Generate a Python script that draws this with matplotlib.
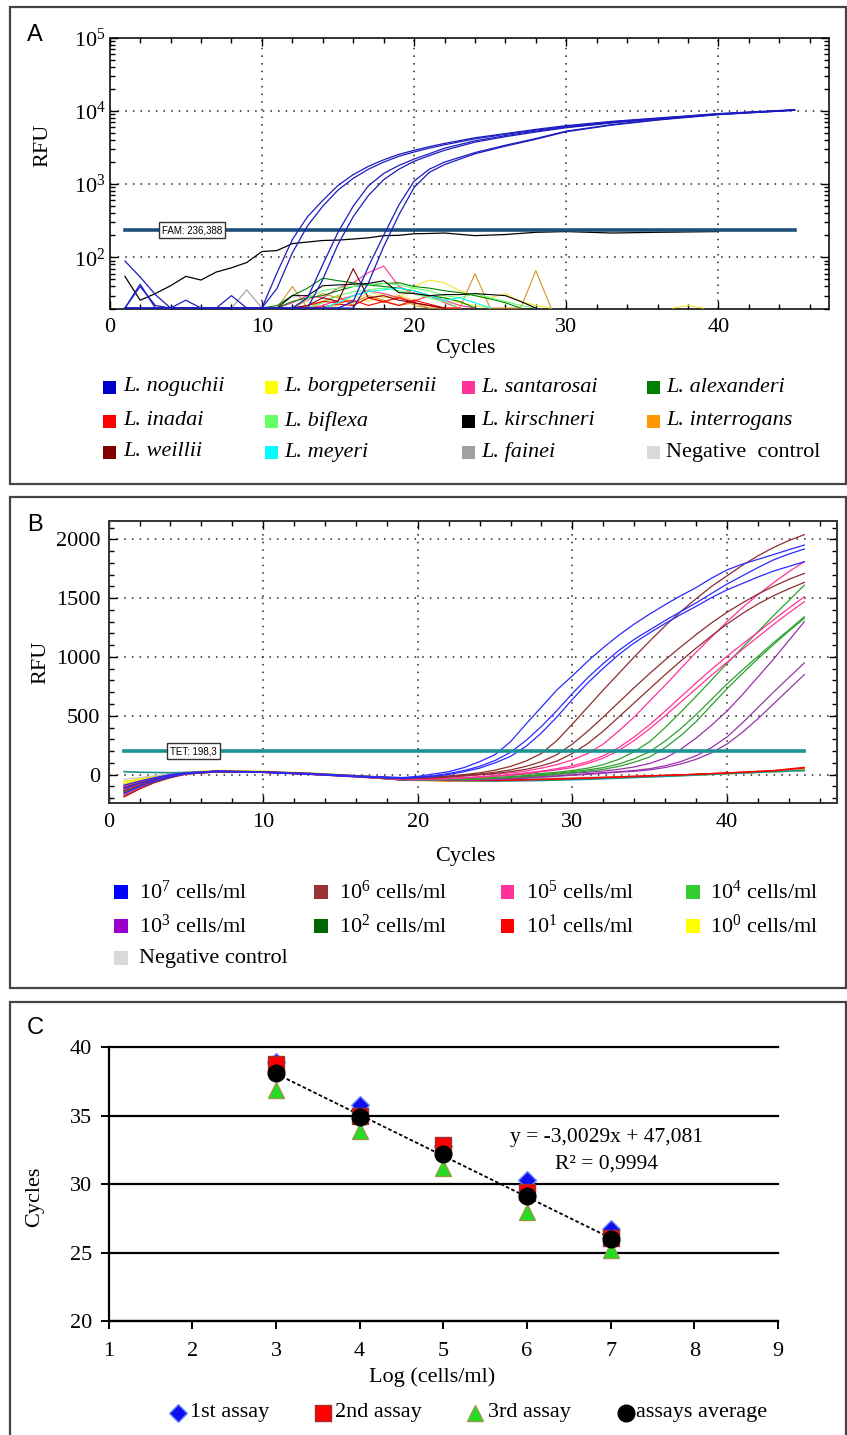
import numpy as np
import matplotlib
matplotlib.use("Agg")
import matplotlib.pyplot as plt
from matplotlib.patches import Rectangle
from matplotlib.lines import Line2D
from matplotlib.ticker import MultipleLocator, LogLocator, NullFormatter

W, H = 847, 1435

# ---------------- panel A: specificity run (RFU, log scale) ----------------
cyc_a = list(range(1, 23)) + [24, 26, 28, 30, 33, 36, 40, 45]

noguchii_runs = [
    [89, 54, 31, 0, 0, 0, 0, 0, 0, 20, 62, 175, 360, 600, 960, 1350, 1750, 2150, 2550, 2900, 3250, 3600,
     4300, 4900, 5600, 6300, 7200, 8000, 9200, 10400],
    [0, 43, 0, 0, 26, 0, 0, 0, 0, 0, 38, 115, 270, 500, 830, 1200, 1600, 2000, 2400, 2750, 3100, 3450,
     4150, 4800, 5450, 6150, 7100, 7900, 9100, 10300],
    [0, 40, 22, 0, 0, 0, 0, 30, 0, 0, 0, 0, 28, 80, 220, 500, 950, 1400, 1800, 2200, 2600, 3100,
     3900, 4600, 5300, 6000, 6950, 7850, 9050, 10300],
    [0, 0, 0, 0, 0, 0, 0, 0, 0, 0, 0, 0, 0, 50, 150, 360, 700, 1150, 1600, 2050, 2450, 2900,
     3750, 4450, 5150, 5900, 6850, 7750, 8950, 10200],
    [0, 0, 0, 0, 0, 0, 0, 0, 0, 0, 0, 0, 0, 0, 0, 25, 75, 200, 520, 1100, 1600, 2000,
     2700, 3400, 4200, 5300, 6500, 7600, 9000, 10300],
    [0, 0, 0, 0, 0, 0, 0, 0, 0, 0, 0, 0, 0, 0, 0, 0, 45, 140, 380, 900, 1450, 1850,
     2600, 3300, 4100, 5200, 6400, 7500, 8900, 10200],
]
kirschneri_main = [55, 26, 32, 41, 55, 49, 63, 72, 85, 120, 124, 154, 162, 170, 172, 178, 185, 198, 200, 210, 212, 215,
                   198, 205, 220, 225, 215, 220, 225, np.nan]

# background traces: (species, first cycle, RFU per cycle)
noise_a = [
    ("borgpetersenii", 14, [0, 22, 30, 25, 32, 28, 40, 49, 45, 35, 30, 28, 32, 25, 22, 0]),
    ("borgpetersenii", 13, [0, 25, 30, 22, 35, 28, 30, 26, 30, 28, 24, 22, 0]),
    ("borgpetersenii", 37, [0, 22, 0]),
    ("interrogans", 11, [0, 40, 0, 25, 30, 22, 28, 24, 30, 22, 0, 0, 0, 60, 0, 0, 0, 66, 0]),
    ("interrogans", 12, [0, 26, 32, 28, 24, 30, 26, 22, 24, 0]),
    ("santarosai", 11, [0, 24, 30, 28, 38, 45, 62, 76, 40, 32, 30, 24, 0]),
    ("santarosai", 13, [0, 22, 26, 30, 35, 32, 28, 25, 30, 26, 22, 0]),
    ("alexanderi", 10, [0, 22, 30, 38, 52, 48, 45, 42, 44, 45, 40, 38, 35, 33, 30, 27, 24, 0]),
    ("alexanderi", 11, [0, 25, 28, 30, 35, 40, 42, 40, 38, 35, 30, 28, 25, 0]),
    ("biflexa", 12, [0, 28, 35, 38, 40, 42, 44, 42, 38, 35, 30, 28, 32, 28, 25, 22, 0]),
    ("biflexa", 13, [0, 24, 30, 34, 36, 38, 35, 32, 28, 25, 0]),
    ("inadai", 12, [0, 22, 25, 24, 26, 22, 25, 28, 24, 22, 0]),
    ("inadai", 13, [0, 21, 23, 22, 28, 25, 22, 26, 23, 20, 0]),
    ("weillii", 12, [0, 22, 28, 25, 70, 28, 30, 26, 24, 22, 0]),
    ("meyeri", 14, [0, 24, 30, 34, 36, 38, 35, 30, 26, 28, 24, 0]),
    ("fainei", 8, [0, 36, 0]),
    ("kirschneri", 11, [0, 30, 30, 41, 42, 43, 44, 48, 33, 32, 30, 31, 31, 32, 31, 30, 25, 0]),
]
fam_threshold = 236.388

species = ["noguchii", "borgpetersenii", "santarosai", "alexanderi",
           "inadai", "biflexa", "kirschneri", "interrogans",
           "weillii", "meyeri", "fainei", "negative"]
species_labels = ["L. noguchii", "L. borgpetersenii", "L. santarosai", "L. alexanderi",
                  "L. inadai", "L. biflexa", "L. kirschneri", "L. interrogans",
                  "L. weillii", "L. meyeri", "L. fainei", "Negative  control"]
species_colors = ["#0000cc", "#ffff00", "#ff3399", "#008000",
                  "#ff0000", "#66ff66", "#000000", "#ff9900",
                  "#800000", "#00ffff", "#a0a0a0", "#d9d9d9"]

# ---------------- panel B: dilution series (RFU, linear) ----------------
cyc_b = [1, 2, 3, 4, 5, 7, 10, 13, 16] + list(range(19, 46))
cyc_b0 = [1, 2, 3, 4, 5, 7, 10, 13, 16, 19, 22, 25, 28, 31, 34, 37, 40, 43, 45]

rfu_1e7 = [
    [-160, -100, -55, -20, 8, 25, 22, 8, -12, -25, -15, 5, 25, 60, 110, 170, 280, 430, 575, 720, 840, 965, 1080,
     1185, 1280, 1365, 1445, 1520, 1590, 1670, 1740, 1790, 1830, 1870, 1912, 1952],
    [-120, -75, -40, -10, 12, 28, 20, 5, -15, -30, -20, -10, 10, 35, 70, 120, 190, 290, 410, 545, 690, 825, 945,
     1055, 1150, 1230, 1310, 1385, 1460, 1540, 1620, 1690, 1760, 1825, 1875, 1918],
    [-90, -55, -25, 0, 15, 30, 18, 2, -18, -32, -25, -15, 0, 25, 55, 100, 155, 240, 355, 490, 640, 780, 905,
     1020, 1120, 1205, 1285, 1360, 1430, 1505, 1570, 1625, 1680, 1730, 1770, 1810],
]
rfu_1e6 = [
    [-185, -120, -65, -25, 5, 22, 20, 5, -15, -35, -30, -22, -12, 0, 15, 38, 70, 115, 180, 290, 430, 575, 720,
     860, 1000, 1135, 1265, 1385, 1495, 1600, 1690, 1780, 1860, 1930, 1990, 2040],
    [-140, -90, -45, -12, 10, 30, 24, 10, -10, -28, -25, -20, -15, -5, 5, 20, 40, 70, 110, 170, 260, 370, 490,
     615, 740, 860, 975, 1085, 1190, 1290, 1380, 1460, 1535, 1600, 1660, 1710],
    [-110, -70, -35, -5, 14, 26, 22, 6, -14, -35, -32, -28, -20, -10, 0, 10, 25, 45, 75, 115, 180, 265, 370,
     490, 610, 730, 850, 965, 1075, 1180, 1280, 1370, 1450, 1520, 1580, 1634],
]
rfu_1e5 = [
    [-175, -110, -60, -22, 6, 24, 20, 4, -18, -40, -35, -30, -22, -12, -2, 5, 15, 30, 55, 85, 125, 180, 260,
     370, 490, 625, 760, 900, 1040, 1170, 1300, 1420, 1530, 1630, 1725, 1810],
    [-130, -80, -42, -14, 10, 28, 22, 8, -12, -38, -38, -35, -30, -25, -18, -10, 0, 15, 30, 50, 75, 110, 160,
     230, 320, 425, 540, 660, 780, 895, 1005, 1110, 1210, 1315, 1415, 1512],
    [-100, -62, -30, -4, 14, 30, 24, 10, -10, -42, -42, -40, -36, -30, -22, -14, -5, 8, 25, 40, 60, 95, 140,
     205, 290, 390, 500, 615, 730, 845, 955, 1065, 1170, 1275, 1375, 1470],
]
rfu_1e4 = [
    [-150, -95, -50, -18, 8, 26, 20, 4, -16, -40, -40, -38, -34, -28, -20, -12, -4, 4, 10, 20, 35, 55, 85,
     130, 195, 280, 400, 530, 665, 805, 945, 1080, 1215, 1350, 1480, 1611],
    [-125, -78, -40, -10, 12, 28, 22, 6, -14, -42, -42, -42, -40, -36, -30, -24, -16, -8, 0, 12, 25, 40, 60,
     90, 135, 195, 285, 390, 510, 640, 770, 890, 1005, 1120, 1230, 1342],
    [-95, -60, -28, -2, 15, 30, 24, 8, -12, -44, -45, -45, -44, -42, -38, -32, -25, -16, -8, 2, 15, 30, 45,
     70, 105, 150, 230, 330, 450, 590, 730, 860, 985, 1105, 1220, 1328],
]
rfu_1e3 = [
    [-165, -105, -56, -20, 6, 24, 20, 6, -16, -45, -46, -46, -45, -42, -38, -32, -25, -16, -8, 2, 12, 20, 30,
     45, 65, 95, 140, 215, 310, 420, 540, 680, 830, 980, 1140, 1300],
    [-135, -85, -45, -15, 10, 27, 21, 5, -15, -46, -48, -48, -48, -46, -42, -38, -32, -25, -18, -10, -2, 8, 16,
     25, 35, 50, 75, 110, 160, 230, 320, 440, 570, 700, 825, 950],
    [-105, -66, -32, -6, 13, 29, 23, 7, -13, -48, -50, -50, -50, -48, -45, -42, -36, -30, -22, -14, -6, 2, 12,
     20, 28, 40, 60, 90, 130, 185, 260, 360, 475, 600, 725, 850],
]
# non-amplifying wells on the sparse cycle grid
rfu_1e2 = [
    [-145, -92, -48, -15, 10, 27, 20, 4, -18, -42, -50, -48, -40, -30, -18, -5, 12, 28, 40],
    [-115, -72, -36, -8, 13, 29, 23, 7, -14, -38, -46, -44, -38, -28, -16, -4, 10, 26, 36],
]
rfu_1e1 = [
    [-190, -122, -66, -26, 4, 22, 18, 2, -20, -45, -52, -50, -42, -30, -16, -2, 15, 35, 62],
    [-155, -100, -52, -18, 8, 25, 20, 5, -16, -40, -48, -46, -40, -28, -14, -2, 14, 32, 55],
]
rfu_1e0 = [
    [-80, -50, -22, 0, 16, 32, 26, 10, -12, -44, -55, -52, -45, -35, -20, -6, 10, 25, 38],
    [-60, -38, -15, 4, 18, 34, 28, 12, -10, -40, -52, -50, -44, -34, -20, -6, 8, 24, 35],
]
rfu_neg = [-40, -25, -8, 6, 18, 30, 26, 12, -8, -30, -38, -36, -30, -22, -12, -2, 10, 22, 32]
rfu_extra = [25, 20, 18, 16, 18, 22, 22, 10, -10, -35, -50, -55, -50, -40, -25, -10, 8, 25, 35]
tet_threshold = 198.3

dil_labels = [r"10$^{7}$ cells/ml", r"10$^{6}$ cells/ml", r"10$^{5}$ cells/ml", r"10$^{4}$ cells/ml",
              r"10$^{3}$ cells/ml", r"10$^{2}$ cells/ml", r"10$^{1}$ cells/ml", r"10$^{0}$ cells/ml",
              "Negative control"]
dil_colors = ["#0000ff", "#993333", "#ff3399", "#33cc33", "#9900cc", "#006600", "#ff0000", "#ffff00", "#d9d9d9"]

# ---------------- panel C: standard curve ----------------
log_conc = [3, 4, 5, 6, 7]
assay1 = [38.95, 35.8, 32.8, 30.3, 26.7]
assay2 = [38.8, 35.0, 32.85, 29.45, 26.05]
assay3 = [36.9, 33.9, 31.15, 28.0, 25.2]
assay_avg = [38.15, 34.9, 32.2, 29.15, 25.97]
fit_slope, fit_intercept = -3.0029, 47.081

# ---------------- figure ----------------
plt.rcParams['font.family'] = ['Liberation Serif', 'DejaVu Serif']
plt.rcParams['font.size'] = 16
plt.rcParams['mathtext.fontset'] = 'custom'
plt.rcParams['mathtext.rm'] = 'Liberation Serif'
plt.rcParams['mathtext.it'] = 'Liberation Serif:italic'
plt.rcParams['mathtext.bf'] = 'Liberation Serif:bold'

fig = plt.figure(figsize=(W / 100, H / 100), dpi=100)


def fx(px):
    return px / W


def fy(py):
    return 1 - py / H


def px_rect(l, t, r, b):
    return [l / W, 1 - b / H, (r - l) / W, (b - t) / H]


def square(cx, cy, color, s=13):
    fig.add_artist(Rectangle((fx(cx - s / 2), fy(cy + s / 2)), s / W, s / H,
                             transform=fig.transFigure, fc=color, ec='none'))


# panel frames and letters
for top, bottom in [(7.3, 484), (497.3, 987.7), (1001.7, 1440)]:
    fig.add_artist(Rectangle((fx(9.7), fy(bottom)), (846 - 9.7) / W, (bottom - top) / H,
                             transform=fig.transFigure, fill=False, ec='#444444', lw=1.6))
for letter, y in [("A", 35), ("B", 525), ("C", 1028)]:
    fig.text(fx(35), fy(y), letter, family='Liberation Sans', fontsize=17, ha='center', va='center')

grid_style = dict(color='#222222', ls=(0, (1, 4)), lw=1.1)

# ---- A ----
ax_a = fig.add_axes(px_rect(109.7, 37.7, 829.3, 308.7))
ax_a.set_yscale('log')
ax_a.set_xlim(0, 47.28)
ax_a.set_ylim(19.9, 1e5)
floor_a = 20.3
line_col = dict(zip(species, species_colors))
line_col["interrogans"] = "#d8922c"
line_col["borgpetersenii"] = "#f2e52a"
for sp, start, vals in noise_a:
    x = np.arange(start, start + len(vals))
    ax_a.plot(x, np.clip(np.array(vals, float), floor_a, None), color=line_col[sp], lw=0.8, zorder=3)
ax_a.plot(cyc_a, np.clip(np.array(kirschneri_main, float), floor_a, None), color='black', lw=0.9, zorder=3)
ax_a.plot([1, 45], [fam_threshold] * 2, color='#1f4e79', lw=2.6, zorder=3.5)
for run in noguchii_runs:
    ax_a.plot(cyc_a, np.clip(np.array(run, float), floor_a, None), color='#1c1cc0', lw=0.9, zorder=4)
ax_a.text(5.4, fam_threshold, "FAM: 236,388", family='Liberation Sans', fontsize=7, ha='center',
          va='center', zorder=6, bbox=dict(boxstyle='square,pad=0.3', fc='white', ec='#333333', lw=1))
ax_a.xaxis.set_major_locator(MultipleLocator(10))
ax_a.xaxis.set_minor_locator(MultipleLocator(2))
ax_a.yaxis.set_minor_locator(LogLocator(subs=np.arange(2, 10)))
ax_a.yaxis.set_minor_formatter(NullFormatter())
ax_a.grid(True, which='major', **grid_style)
ax_a.set_axisbelow(False)

# ---- B ----
ax_b = fig.add_axes(px_rect(108.6, 521, 837.4, 803.3))
ax_b.set_xlim(0, 47.14)
ax_b.set_ylim(-244, 2156)
for vals in rfu_1e2:
    ax_b.plot(cyc_b0, vals, color='#006600', lw=0.9)
for vals in rfu_1e0:
    ax_b.plot(cyc_b0, vals, color='#f5e800', lw=1.2)
ax_b.plot(cyc_b0, rfu_neg, color='#c8c8c8', lw=0.9)
ax_b.plot(cyc_b0, rfu_extra, color='#1a9393', lw=1.2)
for vals in rfu_1e1:
    ax_b.plot(cyc_b0, vals, color='#ff0000', lw=0.9)
for group, col in [(rfu_1e3, '#9933aa'), (rfu_1e4, '#2ea02e'), (rfu_1e5, '#ff3399'),
                   (rfu_1e6, '#8b2e2e'), (rfu_1e7, '#2a2aff')]:
    for vals in group:
        ax_b.plot(cyc_b, vals, color=col, lw=0.9)
ax_b.plot([1, 45], [tet_threshold] * 2, color='#1a9393', lw=2.6, zorder=3)
ax_b.text(5.5, tet_threshold, "TET: 198,3", family='Liberation Sans', fontsize=7, ha='center',
          va='center', zorder=6, bbox=dict(boxstyle='square,pad=0.3', fc='white', ec='#333333', lw=1))
ax_b.xaxis.set_major_locator(MultipleLocator(10))
ax_b.xaxis.set_minor_locator(MultipleLocator(2))
ax_b.yaxis.set_major_locator(MultipleLocator(500))
ax_b.yaxis.set_minor_locator(MultipleLocator(100))
ax_b.grid(True, which='major', **grid_style)

for ax in (ax_a, ax_b):
    for s in ax.spines.values():
        s.set_color('#333333')
        s.set_linewidth(1.4)
    ax.tick_params(which='both', direction='in', top=True, right=True, labelsize=16)
    ax.tick_params(which='major', length=6, width=1)
    ax.tick_params(which='minor', length=3.5, width=1)
    ax.tick_params(axis='x', pad=7)
ax_a.tick_params(axis='y', pad=3)
ax_b.tick_params(axis='y', pad=6)

fig.text(fx(43), fy(145), "RFU", rotation=90, ha='center', va='center', fontsize=16)
fig.text(fx(465), fy(348), "Cycles", ha='center', va='center', fontsize=16)
fig.text(fx(41), fy(662), "RFU", rotation=90, ha='center', va='center', fontsize=16)
fig.text(fx(465), fy(857), "Cycles", ha='center', va='center', fontsize=16)

# legend A
sq_x = [109.5, 271.5, 468.5, 653.5]
tx_x = [123, 284, 481, 666]
rows_a = [387, 421, 452]
for i, (lab, col) in enumerate(zip(species_labels, species_colors)):
    r, c = divmod(i, 4)
    square(sq_x[c], rows_a[r], col)
    style = 'normal' if lab.startswith("Negative") else 'italic'
    fig.text(fx(tx_x[c]), fy(rows_a[r]), lab, style=style, fontsize=16, ha='left', va='center')

# legend B
sq_xb = [121, 321, 507.5, 693]
tx_xb = [139, 339, 526, 710]
rows_b = [892, 926, 958]
for i, (lab, col) in enumerate(zip(dil_labels, dil_colors)):
    r, c = divmod(i, 4)
    square(sq_xb[c], rows_b[r], col, s=13.5)
    fig.text(fx(tx_xb[c]), fy(rows_b[r]), lab, fontsize=16, ha='left', va='center')

# ---- C ----
ax_c = fig.add_axes(px_rect(108.6, 1047.3, 778, 1321))
ax_c.set_xlim(1, 9)
ax_c.set_ylim(20, 40)
ax_c.set_xticks(range(1, 10))
ax_c.set_yticks([20, 25, 30, 35, 40])
ax_c.grid(True, axis='y', color='black', lw=1.6)
for gl in ax_c.get_ygridlines():
    gl.set_clip_on(False)
ax_c.set_axisbelow(True)
for s in ['top', 'right']:
    ax_c.spines[s].set_visible(False)
for s in ['left', 'bottom']:
    ax_c.spines[s].set_linewidth(1.6)
ax_c.tick_params(direction='out', length=6, width=1.4, labelsize=16)
ax_c.tick_params(axis='x', pad=9)
ax_c.tick_params(axis='y', pad=6)

xs = np.array([log_conc[0], log_conc[-1]], float)
ax_c.plot(xs, fit_slope * xs + fit_intercept, color='black', ls=(0, (2, 1.3)), lw=1.3, zorder=2)
mk_assay1 = dict(marker='D', ms=9, mfc='#1010ee', mec='#7090ff', mew=1, ls='none')
mk_assay2 = dict(marker='s', ms=11, mfc='#ff0000', mec='#a03030', mew=1, ls='none')
mk_assay3 = dict(marker='^', ms=12, mfc='#22dd22', mec='#99994a', mew=1, ls='none')
mk_avg = dict(marker='o', ms=12, mfc='black', mec='black', ls='none')
ax_c.plot(log_conc, assay1, zorder=3, **mk_assay1)
ax_c.plot(log_conc, assay2, zorder=4, **mk_assay2)
ax_c.plot(log_conc, assay3, zorder=4, **mk_assay3)
ax_c.plot(log_conc, assay_avg, zorder=5, **mk_avg)
ax_c.text(6.95, 33.4, "y = -3,0029x + 47,081", ha='center', va='center', fontsize=15.5)
ax_c.text(6.95, 31.45, "R² = 0,9994", ha='center', va='center', fontsize=15.5)

fig.text(fx(35), fy(1197), "Cycles", rotation=90, ha='center', va='center', fontsize=16)
fig.text(fx(432), fy(1377), "Log (cells/ml)", ha='center', va='center', fontsize=16)

leg_c = [(178, 190, "1st assay", mk_assay1), (323, 335, "2nd assay", mk_assay2),
         (475, 488, "3rd assay", mk_assay3), (626, 636, "assays average", mk_avg)]
for mx, tx, lab, mk in leg_c:
    fig.add_artist(Line2D([fx(mx)], [fy(1413)], transform=fig.transFigure, **mk))
    fig.text(fx(tx), fy(1413), lab, fontsize=16, ha='left', va='center')

fig.savefig("out.png", dpi=100)
